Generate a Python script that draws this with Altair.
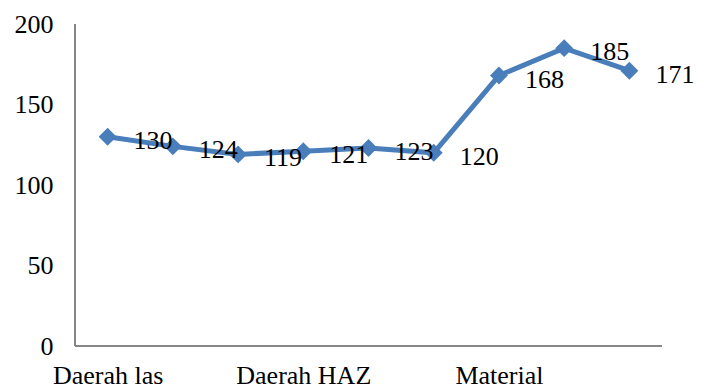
import altair as alt
import pandas as pd

positions = [1, 2, 3, 4, 5, 6, 7, 8, 9]
values = [130, 124, 119, 121, 123, 120, 168, 185, 171]
axis_labels = ["Daerah las", "", "", "Daerah HAZ", "", "", "Material", "", ""]

df = pd.DataFrame({"pos": positions, "value": values,
                   "label": [str(v) for v in values]})

label_expr = "{" + ",".join(f"'{p}':'{l}'" for p, l in zip(positions, axis_labels)) + "}[datum.value]"

FONT = "Liberation Serif"
COLOR = "#4A7EBB"
AXIS_COLOR = "#868686"
W, H = 587, 322

x = alt.X("pos:O", scale=alt.Scale(type="point", padding=0.5),
          axis=alt.Axis(title=None, labelAngle=0, ticks=False, grid=False,
                        domain=False,
                        labelExpr=label_expr, labelFont=FONT, labelFontSize=26,
                        labelColor="black", labelPadding=16))
y = alt.Y("value:Q", scale=alt.Scale(domain=[0, 200], nice=False),
          axis=alt.Axis(title=None, values=[0, 50, 100, 150, 200], ticks=False,
                        grid=False, domain=False,
                        labelFont=FONT, labelFontSize=26, labelColor="black",
                        labelPadding=22))

base = alt.Chart(df)
yline = alt.Chart(df).mark_rule(color=AXIS_COLOR, strokeWidth=1.5).encode(
    x=alt.value(0), y=alt.value(0), y2=alt.value(H))
xline = alt.Chart(df).mark_rule(color=AXIS_COLOR, strokeWidth=1.5).encode(
    x=alt.value(0), x2=alt.value(W), y=alt.value(H))
line = base.mark_line(color=COLOR, strokeWidth=5).encode(x=x, y=y)
pts = base.mark_point(shape="diamond", filled=True, color=COLOR, size=320, opacity=1).encode(x=x, y=y)
txt = base.mark_text(align="left", baseline="middle", dx=26, dy=4, font=FONT,
                     fontSize=26, color="black").encode(x=x, y=y, text="label:N")

chart = alt.layer(yline, xline, line, pts, txt).properties(
    width=W, height=H,
    background="white",
    autosize=alt.AutoSizeParams(type="none"),
    padding={"left": 75, "top": 24, "right": 42, "bottom": 43},
).configure_view(stroke=None)

chart.save("out.html", embed_options={"renderer": "svg", "actions": False})
